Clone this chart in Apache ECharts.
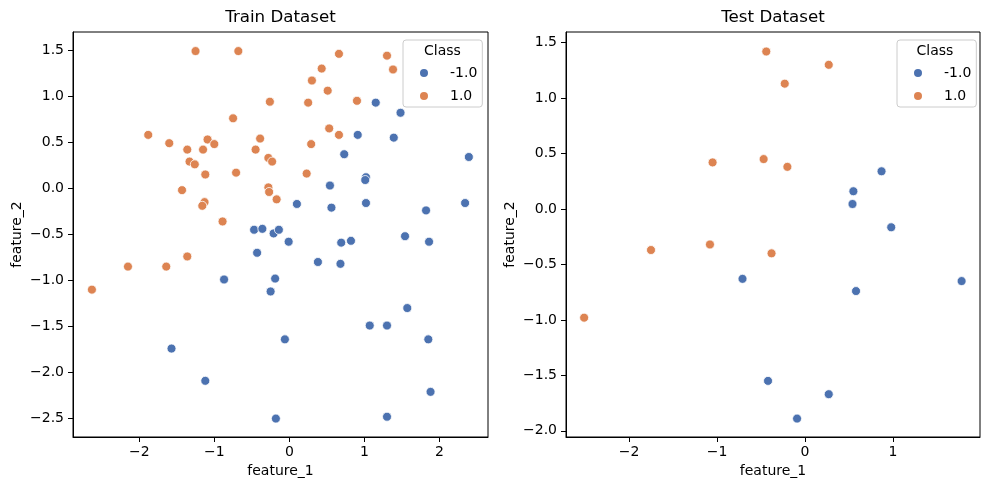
<!DOCTYPE html>
<html>
<head>
<meta charset="utf-8">
<script src="https://cdn.jsdelivr.net/npm/echarts@6/dist/echarts.min.js"></script>
<style>
html,body{margin:0;padding:0;background:#fff;}
#chart{width:989px;height:490px;}
</style>
</head>
<body>
<div id="chart"></div>
<script>
// ---- data ----
const classNames = ['-1.0', '1.0'];
const trainNegX = [1.15,1.48,0.91,1.39,0.73,2.39,1.02,1.01,0.54,0.10,0.56,1.02,1.82,2.34,-0.47,-0.36,-0.21,-0.14,-0.01,0.69,0.82,1.54,1.86,0.38,0.68,-0.43,-0.87,-0.19,-0.25,1.57,1.07,1.30,-0.06,1.85,-1.57,-1.12,1.88,-0.18,1.30];
const trainNegY = [0.93,0.82,0.58,0.55,0.37,0.34,0.12,0.09,0.03,-0.17,-0.21,-0.16,-0.24,-0.16,-0.45,-0.44,-0.49,-0.45,-0.58,-0.59,-0.57,-0.52,-0.58,-0.80,-0.82,-0.70,-0.99,-0.98,-1.12,-1.30,-1.49,-1.49,-1.64,-1.64,-1.74,-2.09,-2.21,-2.50,-2.48];
const trainPosX = [-1.25,-0.68,0.66,1.30,1.38,0.43,0.30,0.51,-0.26,0.25,0.90,-0.75,-1.88,-1.60,-1.36,-1.15,-1.09,-1.00,-0.39,-0.45,-0.28,-0.23,-1.33,-1.26,-1.12,-0.71,0.53,0.66,0.29,0.23,-1.43,-0.28,-0.27,-0.17,-1.13,-1.16,-0.89,-2.63,-2.15,-1.64,-1.36];
const trainPosY = [1.49,1.49,1.46,1.44,1.29,1.30,1.17,1.06,0.94,0.93,0.95,0.76,0.58,0.49,0.42,0.42,0.53,0.48,0.54,0.42,0.33,0.29,0.29,0.26,0.15,0.17,0.65,0.58,0.48,0.16,-0.02,0.01,-0.04,-0.12,-0.15,-0.19,-0.36,-1.10,-0.85,-0.85,-0.74];
const testNegX = [0.87,0.55,0.54,0.98,-0.71,1.78,0.58,-0.42,0.27,-0.09];
const testNegY = [0.34,0.16,0.045,-0.165,-0.63,-0.65,-0.74,-1.55,-1.67,-1.89];
const testPosX = [-0.44,0.27,-0.23,-1.05,-0.47,-0.20,-1.75,-1.08,-0.38,-2.51];
const testPosY = [1.42,1.30,1.13,0.42,0.45,0.38,-0.37,-0.32,-0.40,-0.98];
const trainXTicks = [-2,-1,0,1,2];
const trainYTicks = [-2.5,-2.0,-1.5,-1.0,-0.5,0.0,0.5,1.0,1.5];
const testXTicks = [-2,-1,0,1];
const testYTicks = [-2.0,-1.5,-1.0,-0.5,0.0,0.5,1.0,1.5];

const zip = (xs, ys) => xs.map((x, i) => [x, ys[i]]);
const BLUE = '#4C72B0', ORANGE = '#DD8452';
const FONT = 'DejaVu Sans';
const fmtInt = v => String(Math.round(v)).replace('-', '\u2212');
const fmt1 = v => Number(v).toFixed(1).replace('-', '\u2212');

function xAxis(idx, min, max, ticks) {
  return {
    type: 'value', gridIndex: idx, min: min, max: max,
    name: 'feature_1', nameLocation: 'middle', nameGap: 27,
    nameTextStyle: {fontFamily: FONT, fontSize: 14, color: '#000'},
    axisLine: {show: true, onZero: false, lineStyle: {color: '#000', width: 1}},
    axisTick: {show: true, length: 5, customValues: ticks, lineStyle: {color: '#000'}},
    axisLabel: {customValues: ticks, margin: 8, formatter: fmtInt, fontFamily: FONT, fontSize: 14, color: '#000'},
    splitLine: {show: false}
  };
}
function yAxis(idx, min, max, ticks) {
  return {
    type: 'value', gridIndex: idx, min: min, max: max,
    name: 'feature_2', nameLocation: 'middle', nameGap: 49,
    nameTextStyle: {fontFamily: FONT, fontSize: 14, color: '#000'},
    axisLine: {show: true, onZero: false, lineStyle: {color: '#000', width: 1}},
    axisTick: {show: true, length: 5, customValues: ticks, lineStyle: {color: '#000'}},
    axisLabel: {customValues: ticks, margin: 9, formatter: fmt1, fontFamily: FONT, fontSize: 14, color: '#000'},
    splitLine: {show: false}
  };
}
function scatter(name, color, xi, data) {
  return {
    type: 'scatter', name: name, xAxisIndex: xi, yAxisIndex: xi,
    symbol: 'circle', symbolSize: 9, data: data,
    itemStyle: {color: color, opacity: 1, borderColor: '#fff', borderWidth: 0.8},
    emphasis: {disabled: true}
  };
}
function legend(left, top) {
  return {
    show: true, orient: 'vertical', left: left, top: top,
    data: classNames, selectedMode: false,
    icon: 'circle', itemWidth: 10, itemHeight: 10, itemGap: 9,
    padding: [26, 5, 4, 15],
    backgroundColor: 'rgba(255,255,255,0.8)', borderColor: '#cccccc', borderWidth: 1, borderRadius: 3,
    formatter: name => '{s| }{t|' + name + '}',
    textStyle: {
      fontFamily: FONT, fontSize: 14, color: '#000', lineHeight: 14,
      rich: {
        s: {width: 16, fontSize: 14, lineHeight: 14},
        t: {fontFamily: FONT, fontSize: 14, color: '#000', lineHeight: 14}
      }
    }
  };
}

const chart = echarts.init(document.getElementById('chart'), null, {renderer: 'canvas'});
chart.setOption({
  animation: false,
  backgroundColor: '#fff',
  grid: [
    {left: 73, right: 501, top: 32, bottom: 53, show: true, borderColor: '#000', borderWidth: 1, backgroundColor: 'transparent'},
    {left: 566, right: 9, top: 32, bottom: 53, show: true, borderColor: '#000', borderWidth: 1, backgroundColor: 'transparent'}
  ],
  xAxis: [xAxis(0, -2.882, 2.645, trainXTicks), xAxis(1, -2.716, 1.989, testXTicks)],
  yAxis: [yAxis(0, -2.700, 1.697, trainYTicks), yAxis(1, -2.056, 1.596, testYTicks)],
  legend: [legend(403, 40), legend(897, 40)],
  graphic: [
    {type: 'text', x: 280.5, y: 18, style: {text: 'Train Dataset', fontFamily: FONT, fontSize: 16.7, fill: '#000', align: 'center', verticalAlign: 'middle'}},
    {type: 'text', x: 773, y: 18, style: {text: 'Test Dataset', fontFamily: FONT, fontSize: 16.7, fill: '#000', align: 'center', verticalAlign: 'middle'}},
    {type: 'text', x: 442.5, y: 51, z: 100, style: {text: 'Class', fontFamily: FONT, fontSize: 14, fill: '#000', align: 'center', verticalAlign: 'middle'}},
    {type: 'text', x: 935, y: 51, z: 100, style: {text: 'Class', fontFamily: FONT, fontSize: 14, fill: '#000', align: 'center', verticalAlign: 'middle'}}
  ],
  series: [
    scatter(classNames[0], BLUE, 0, zip(trainNegX, trainNegY)),
    scatter(classNames[1], ORANGE, 0, zip(trainPosX, trainPosY)),
    scatter(classNames[0], BLUE, 1, zip(testNegX, testNegY)),
    scatter(classNames[1], ORANGE, 1, zip(testPosX, testPosY))
  ]
});
</script>
</body>
</html>
